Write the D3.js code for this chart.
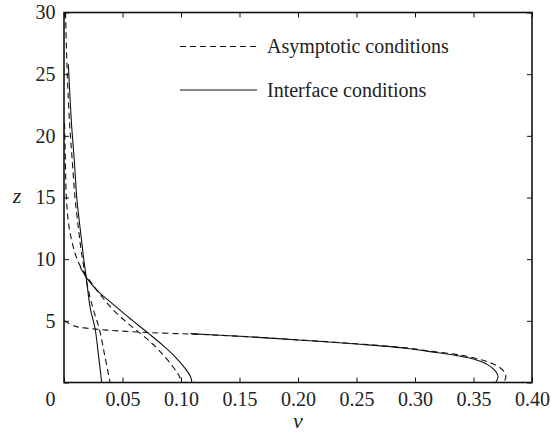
<!DOCTYPE html>
<html>
<head>
<meta charset="utf-8">
<script src="https://cdn.jsdelivr.net/npm/d3@7"></script>
<style>
  body { margin: 0; background: #fff; }
</style>
</head>
<body>
<svg id="chart" width="551" height="436"></svg>
<script>
// [nu, z] pairs
const asymptotic1 = [
  [0.0013, 30], [0.0029, 24.7], [0.005, 20.7], [0.0072, 17.8], [0.0094, 15],
  [0.0122, 12.6], [0.015, 10.5], [0.019, 8.3], [0.0245, 6.1], [0.03, 4.4],
  [0.035, 2.1], [0.0394, 0],
];
const asymptotic2 = [
  [0.0005, 21], [0.0012, 18], [0.002, 15], [0.0045, 12.5], [0.0094, 10.5],
  [0.013, 9.6], [0.018, 8.8], [0.024, 8.0], [0.032, 7.0], [0.0422, 5.87],
  [0.054, 4.85], [0.065, 4.0], [0.076, 3.1], [0.085, 2.22], [0.093, 1.3],
  [0.098, 0.6], [0.1008, 0],
];
const asymptotic3 = [
  [0, 5.0], [0.01, 4.55], [0.02, 4.4], [0.0365, 4.25], [0.07, 4.06],
  [0.11, 3.92], [0.15, 3.75], [0.2, 3.46], [0.25, 3.14], [0.29, 2.83],
  [0.313, 2.55], [0.335, 2.28], [0.35, 2.0], [0.362, 1.68], [0.372, 1.25],
  [0.377, 0.75], [0.3775, 0.35], [0.3756, 0],
];
const interface1 = [
  [0.0037, 25.8], [0.0052, 23], [0.0066, 20.7], [0.0088, 18], [0.0109, 15],
  [0.0138, 12.5], [0.0165, 10.3], [0.019, 8.5], [0.0225, 6], [0.0265, 4.4],
  [0.0295, 2.2], [0.0322, 0],
];
const interface2 = [
  [0.0137, 9.37], [0.0208, 8.3], [0.03, 7.3], [0.0394, 6.54], [0.055, 5.3],
  [0.0722, 3.98], [0.084, 3.05], [0.0936, 2.22], [0.103, 1.2], [0.108, 0.5],
  [0.1093, 0],
];
const interface3 = [
  [0.108, 3.96], [0.15, 3.75], [0.2, 3.45], [0.25, 3.12], [0.29, 2.8],
  [0.313, 2.5], [0.335, 2.2], [0.35, 1.9], [0.362, 1.45], [0.369, 0.9],
  [0.371, 0.45], [0.369, 0],
];

const xTicks = [0, 0.05, 0.1, 0.15, 0.2, 0.25, 0.3, 0.35, 0.4];
const yTicks = [0, 5, 10, 15, 20, 25, 30];
const legendLabels = ["Asymptotic conditions", "Interface conditions"];

const serif = "Liberation Serif";

const svg = d3.select("#chart");
svg.append("rect").attr("width", 551).attr("height", 436).attr("fill", "#fff");

const plotLeft = 64, plotRight = 532, plotTop = 12.5, plotBottom = 382.5;

const x = d3.scaleLinear().domain([0, 0.4]).range([plotLeft, plotRight]);
const y = d3.scaleLinear().domain([0, 30]).range([plotBottom, plotTop]);

svg.append("clipPath")
  .attr("id", "plot-clip")
  .append("rect")
  .attr("x", plotLeft)
  .attr("y", plotTop)
  .attr("width", plotRight - plotLeft)
  .attr("height", plotBottom - plotTop);

const line = d3
  .line()
  .curve(d3.curveCatmullRom.alpha(0.5))
  .x((d) => x(d[0]))
  .y((d) => y(d[1]));

const curves = svg.append("g").attr("clip-path", "url(#plot-clip)");

[asymptotic1, asymptotic2, asymptotic3].forEach((pts) => {
  curves
    .append("path")
    .datum(pts)
    .attr("fill", "none")
    .attr("stroke", "#111")
    .attr("stroke-width", 1.1)
    .attr("stroke-dasharray", "6,4")
    .attr("d", line);
});

[interface1, interface2, interface3].forEach((pts) => {
  curves
    .append("path")
    .datum(pts)
    .attr("fill", "none")
    .attr("stroke", "#111")
    .attr("stroke-width", 1.1)
    .attr("d", line);
});

// axes, ticks pointing inwards
const fontSize = 20;

const xAxis = svg
  .append("g")
  .attr("transform", `translate(0,${plotBottom})`)
  .call(
    d3.axisBottom(x)
      .tickValues(xTicks)
      .tickSizeInner(-5)
      .tickSizeOuter(0)
      .tickPadding(9.5)
      .tickFormat((d) => (d === 0 ? "0" : d3.format(".2f")(d)))
  );

svg
  .append("g")
  .attr("transform", `translate(0,${plotTop})`)
  .call(d3.axisTop(x).tickValues(xTicks).tickSizeInner(-5).tickSizeOuter(0).tickFormat(""));

svg
  .append("g")
  .attr("transform", `translate(${plotLeft},0)`)
  .call(
    d3.axisLeft(y)
      .tickValues(yTicks)
      .tickSizeInner(-5)
      .tickSizeOuter(0)
      .tickPadding(8.5)
      .tickFormat((d) => (d === 0 ? "" : d))
  );

svg
  .append("g")
  .attr("transform", `translate(${plotRight},0)`)
  .call(d3.axisRight(y).tickValues(yTicks).tickSizeInner(-5).tickSizeOuter(0).tickFormat(""));

svg.selectAll(".domain").remove();
svg.selectAll(".tick line").attr("stroke", "#111").attr("stroke-width", 1);
svg.selectAll(".tick text")
  .style("font-family", serif)
  .attr("font-size", fontSize)
  .attr("fill", "#222");

// the zero label sits left of the corner
xAxis.selectAll(".tick text").filter((d) => d === 0).attr("dx", -14);

svg
  .append("rect")
  .attr("x", plotLeft)
  .attr("y", plotTop)
  .attr("width", plotRight - plotLeft)
  .attr("height", plotBottom - plotTop)
  .attr("fill", "none")
  .attr("stroke", "#111")
  .attr("stroke-width", 1.6);

svg
  .append("text")
  .attr("x", (plotLeft + plotRight) / 2)
  .attr("y", 428)
  .attr("text-anchor", "middle")
  .style("font-family", serif)
  .attr("font-size", 22)
  .attr("font-style", "italic")
  .attr("fill", "#222")
  .text("ν");

svg
  .append("text")
  .attr("x", 17)
  .attr("y", 203)
  .attr("text-anchor", "middle")
  .style("font-family", serif)
  .attr("font-size", 22)
  .attr("font-style", "italic")
  .attr("fill", "#222")
  .text("z");

// legend
const legend = svg.append("g");
legendLabels.forEach((label, i) => {
  const ly = 46.5 + i * 43.5;
  legend
    .append("line")
    .attr("x1", 180)
    .attr("x2", 257)
    .attr("y1", ly)
    .attr("y2", ly)
    .attr("stroke", "#111")
    .attr("stroke-width", 1.1)
    .attr("stroke-dasharray", i === 0 ? "6,4" : null);
  legend
    .append("text")
    .attr("x", 267)
    .attr("y", ly + 6.5)
    .style("font-family", serif)
    .attr("font-size", fontSize)
    .attr("fill", "#222")
    .text(label);
});
</script>
</body>
</html>
